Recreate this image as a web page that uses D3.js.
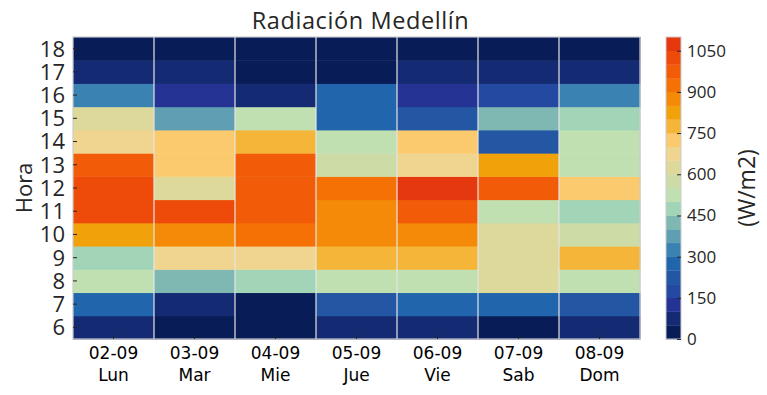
<!DOCTYPE html>
<html lang="es">
<head>
<meta charset="UTF-8">
<title>Radiación Medellín</title>
<script src="https://cdn.jsdelivr.net/npm/d3@7"></script>
<style>
  body { margin: 0; background: #fff; }
</style>
</head>
<body>
<script>
// days on the x axis
const fechas = ["02-09", "03-09", "04-09", "05-09", "06-09", "07-09", "08-09"];
const dias = ["Lun", "Mar", "Mie", "Jue", "Vie", "Sab", "Dom"];
// hours on the y axis (bottom to top)
const horas = [6, 7, 8, 9, 10, 11, 12, 13, 14, 15, 16, 17, 18];

// radiation W/m2 per day, hours 6..18
const lun = [80, 270, 520, 470, 820, 1020, 1020, 970, 670, 620, 320, 70, 10];
const mar = [30, 90, 420, 660, 870, 1010, 610, 730, 720, 380, 130, 80, 20];
const mie = [10, 20, 480, 680, 920, 980, 970, 960, 770, 530, 70, 20, 10];
const jue = [70, 230, 520, 780, 870, 880, 930, 580, 530, 270, 280, 20, 10];
const vie = [80, 260, 520, 770, 860, 960, 1070, 670, 720, 220, 140, 70, 10];
const sab = [20, 270, 620, 630, 620, 530, 960, 830, 220, 430, 180, 70, 10];
const dom = [90, 220, 520, 780, 570, 480, 720, 530, 520, 470, 330, 70, 10];
const valores = [lun, mar, mie, jue, vie, sab, dom];

// 22 discrete colours, 50 W/m2 each
const colores = ["#081d58", "#142b74", "#253494", "#2349a0", "#2356a3", "#2166ac",
  "#3a82b1", "#5f9eb3", "#7fb8b3", "#a2d4b8", "#c0e0b2", "#cddca6", "#dcd99b",
  "#f0d590", "#fbca6e", "#f4b538", "#f1a10a", "#f48a08", "#f57005", "#f25c08",
  "#ee4b0a", "#e6380f"];
const cbTicks = [0, 150, 300, 450, 600, 750, 900, 1050];

const W = 767, H = 395;
const m = { left: 73, right: 640, top: 37, bottom: 339 };
const font = "'Open Sans', Lato, sans-serif";
const ink = "#262626";

const svg = d3.select("body").append("svg")
  .attr("width", W).attr("height", H);

const x = d3.scaleBand().domain(fechas).range([m.left, m.right]);
const y = d3.scaleBand().domain(horas).range([m.bottom, m.top]);
const color = d3.scaleQuantize().domain([0, 1100]).range(colores);

// cells
const cells = [];
valores.forEach((serie, i) => {
  serie.forEach((v, j) => cells.push({ f: fechas[i], h: horas[j], v: v }));
});
svg.append("g").selectAll("rect").data(cells).join("rect")
  .attr("x", d => x(d.f))
  .attr("y", d => y(d.h))
  .attr("width", x.bandwidth() + 0.5)
  .attr("height", y.bandwidth() + 0.5)
  .attr("fill", d => color(d.v));

// white lines between columns
svg.append("g").selectAll("line").data(fechas.slice(1)).join("line")
  .attr("x1", d => x(d)).attr("x2", d => x(d))
  .attr("y1", m.top).attr("y2", m.bottom)
  .attr("stroke", "#e4e4e4").attr("stroke-width", 1.2);

// frame
svg.append("rect")
  .attr("x", m.left).attr("y", m.top)
  .attr("width", m.right - m.left).attr("height", m.bottom - m.top)
  .attr("fill", "none").attr("stroke", "#cccccc").attr("stroke-width", 1.2);

// y axis
const yAxis = svg.append("g")
  .attr("transform", `translate(${m.left},0)`)
  .call(d3.axisLeft(y).tickSize(-4).tickPadding(8));
yAxis.select(".domain").remove();
yAxis.selectAll("line").attr("stroke", ink);
yAxis.selectAll("text")
  .style("font-family", font).style("font-size", "22px")
  .attr("fill", ink).attr("dy", "0.36em");

// x axis
const xAxis = svg.append("g")
  .attr("transform", `translate(0,${m.bottom})`)
  .call(d3.axisBottom(x).tickSize(-4));
xAxis.select(".domain").remove();
xAxis.selectAll("line").attr("stroke", ink);
xAxis.selectAll("text").remove();
xAxis.selectAll(".tick").append("text")
  .style("font-family", "'DejaVu Sans', sans-serif")
  .style("font-size", "17px")
  .attr("fill", "#000")
  .attr("text-anchor", "middle")
  .each(function (d, i) {
    const t = d3.select(this);
    t.append("tspan").attr("x", 0).attr("y", 20).text(d);
    t.append("tspan").attr("x", 0).attr("y", 42).text(dias[i]);
  });

// axis title
svg.append("text")
  .style("font-family", font).style("font-size", "22px")
  .attr("fill", ink)
  .attr("transform", `translate(32,${(m.top + m.bottom) / 2}) rotate(-90)`)
  .attr("text-anchor", "middle")
  .text("Hora");

// title
svg.append("text")
  .style("font-family", font).style("font-size", "23.5px")
  .style("letter-spacing", "0.6px")
  .attr("fill", ink)
  .attr("x", (m.left + m.right) / 2 + 4).attr("y", 29)
  .attr("text-anchor", "middle")
  .text("Radiación Medellín");

// colour bar
const cb = { x: 666, w: 15, top: 37, bottom: 339 };
const cy = d3.scaleLinear().domain([0, 1100]).range([cb.bottom, cb.top]);
svg.append("g").selectAll("rect").data(colores).join("rect")
  .attr("x", cb.x)
  .attr("y", (d, i) => cy((i + 1) * 50))
  .attr("width", cb.w)
  .attr("height", (d, i) => cy(i * 50) - cy((i + 1) * 50) + 0.3)
  .attr("fill", d => d);
svg.append("rect")
  .attr("x", cb.x).attr("y", cb.top)
  .attr("width", cb.w).attr("height", cb.bottom - cb.top)
  .attr("fill", "none").attr("stroke", "#cccccc").attr("stroke-width", 1);

const cAxis = svg.append("g")
  .attr("transform", `translate(${cb.x + cb.w},0)`)
  .call(d3.axisRight(cy).tickValues(cbTicks).tickFormat(d3.format("d"))
    .tickSize(-4).tickPadding(6));
cAxis.select(".domain").remove();
cAxis.selectAll("line").attr("stroke", ink);
cAxis.selectAll("text")
  .style("font-family", font).style("font-size", "17px")
  .attr("fill", ink);

svg.append("text")
  .style("font-family", font).style("font-size", "23px")
  .attr("fill", ink)
  .attr("transform", `translate(755,${(cb.top + cb.bottom) / 2}) rotate(-90)`)
  .attr("text-anchor", "middle")
  .text("(W/m2)");
</script>
</body>
</html>
